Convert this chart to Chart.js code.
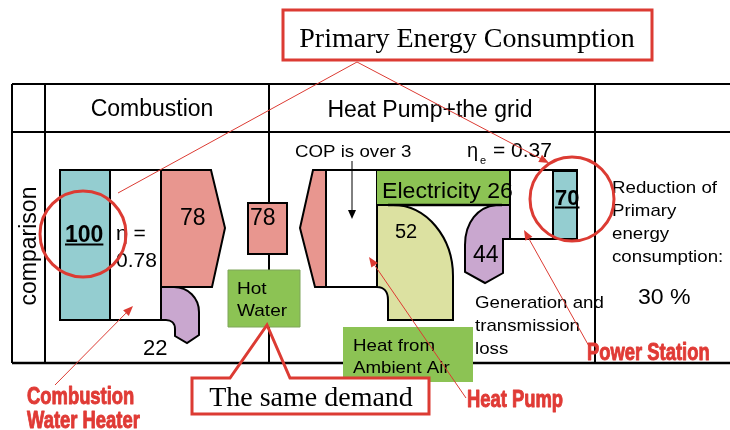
<!DOCTYPE html>
<html><head><meta charset="utf-8">
<script src="https://cdn.jsdelivr.net/npm/chart.js@4.4.1/dist/chart.umd.min.js"></script>
<style>html,body{margin:0;padding:0;background:#fff;}canvas{display:block;}</style>
</head><body>
<canvas id="c" width="730" height="430"></canvas>
<script>
// ---------- data ----------
const categories = ['Combustion', 'Heat Pump+the grid'];
const rowLabel = 'comparison';
const combustionFlows = [100, 78, 22];      // primary energy, heat to hot water, loss
const heatPumpFlows = [78, 52, 26];         // heat delivered, heat from ambient air, electricity
const powerStationFlows = [70, 44];         // primary energy, generation & transmission loss
const demandValue = 78;
const efficiencyLabels = ['0.78', '0.37'];
const copLabel = 'COP is over 3';
const reductionPercent = 30;
const calloutLabels = ['Primary Energy Consumption', 'The same demand'];
const redLabels = ['Combustion', 'Water Heater', 'Heat Pump', 'Power Station'];

// ---------- style ----------
const SANS = '"Liberation Sans", Arial, sans-serif';
const SERIF = '"Liberation Serif", "Times New Roman", serif';
const COL = { teal:'#94CDD0', salmon:'#E8968F', purple:'#C9A7CF', green:'#8CC354',
              olive:'#DCE1A1', red:'#DC3B33', redText:'#E03A35', ink:'#000' };
const U = 1.5;      // px per energy unit for the combustion blocks
const TOP = 170;

const diagram = {
  id: 'diagram',
  afterDraw(chart) {
    const ctx = chart.ctx, sx = chart.scales.x, sy = chart.scales.y;
    const X = v => sx.getPixelForValue(v), Y = v => sy.getPixelForValue(v);

    const path = (cmds) => {
      ctx.beginPath();
      cmds.forEach(c => {
        if (c[0] === 'M') ctx.moveTo(X(c[1]), Y(c[2]));
        else if (c[0] === 'L') ctx.lineTo(X(c[1]), Y(c[2]));
        else if (c[0] === 'C') ctx.bezierCurveTo(X(c[1]), Y(c[2]), X(c[3]), Y(c[4]), X(c[5]), Y(c[6]));
      });
      ctx.closePath();
    };
    const shape = (cmds, fill, stroke, lw) => {
      path(cmds);
      if (fill) { ctx.fillStyle = fill; ctx.fill(); }
      if (stroke) { ctx.strokeStyle = stroke; ctx.lineWidth = lw || 2; ctx.lineJoin = 'miter'; ctx.stroke(); }
    };
    const rect = (x0, y0, x1, y1, fill, stroke, lw) =>
      shape([['M',x0,y0],['L',x1,y0],['L',x1,y1],['L',x0,y1]], fill, stroke, lw);
    const line = (x0, y0, x1, y1, color, lw) => {
      ctx.beginPath(); ctx.moveTo(X(x0), Y(y0)); ctx.lineTo(X(x1), Y(y1));
      ctx.strokeStyle = color; ctx.lineWidth = lw; ctx.lineCap = 'butt'; ctx.stroke();
    };
    const arrow = (x0, y0, x1, y1, color, lw, hl, hw) => {
      const a = Math.atan2(Y(y1) - Y(y0), X(x1) - X(x0));
      const bx = X(x1) - hl * Math.cos(a), by = Y(y1) - hl * Math.sin(a);
      ctx.beginPath(); ctx.moveTo(X(x0), Y(y0)); ctx.lineTo(bx, by);
      ctx.strokeStyle = color; ctx.lineWidth = lw; ctx.stroke();
      ctx.beginPath();
      ctx.moveTo(X(x1), Y(y1));
      ctx.lineTo(bx + hw * Math.sin(a), by - hw * Math.cos(a));
      ctx.lineTo(bx - hw * Math.sin(a), by + hw * Math.cos(a));
      ctx.closePath(); ctx.fillStyle = color; ctx.fill();
    };
    const txt = (s, x, y, o) => {
      ctx.save();
      ctx.font = `${o.weight || 'normal'} ${o.size}px ${o.family || SANS}`;
      ctx.fillStyle = o.color || COL.ink;
      ctx.textAlign = o.align || 'left';
      ctx.textBaseline = 'alphabetic';
      ctx.translate(X(x), Y(y));
      if (o.rot) ctx.rotate(o.rot);
      ctx.scale(o.sx || 1, o.sy || 1);
      if (o.stroke) { ctx.lineWidth = o.stroke; ctx.strokeStyle = o.color; ctx.lineJoin = 'round'; ctx.strokeText(s, 0, 0); }
      ctx.fillText(s, 0, 0);
      const w = ctx.measureText(s).width * (o.sx || 1);
      ctx.restore();
      return w;
    };

    ctx.save();
    // ---------- table ----------
    [[84,2],[132,2],[363,2.5]].forEach(([y,w]) => line(12, y, 730, y, COL.ink, w));
    [12, 45, 269, 595].forEach(x => line(x, 84, x, 363, COL.ink, 2));
    txt(categories[0], 152, 116, { size: 23, align: 'center' });
    txt(categories[1], 430, 117, { size: 23, align: 'center' });
    txt(rowLabel, 36, 246, { size: 23, align: 'center', rot: -Math.PI / 2 });

    // ---------- combustion water heater ----------
    const cBot = TOP + combustionFlows[0] * U;
    const cHeat = TOP + combustionFlows[1] * U;
    rect(60, TOP, 110, cBot, COL.teal, COL.ink, 2);
    rect(110, TOP, 161, cBot, '#fff', COL.ink, 2);
    shape([['M',161,TOP],['L',211,TOP],['L',225,228],['L',212,cHeat],['L',161,cHeat]], COL.salmon, COL.ink, 2);
    shape([['M',161,cHeat],['L',174,cHeat],['C',188,cHeat,199,298,199,312],['L',199,335],['L',187,343],
           ['L',175,336],['L',175,329],['C',175,323,171,cBot,166,cBot],['L',161,cBot]], COL.purple, COL.ink, 2);
    let w = txt(String(combustionFlows[0]), 65, 242, { size: 23, weight: 'bold' });
    line(65, 244.5, 65 + w, 244.5, COL.ink, 2);
    txt('\u03B7 =', 116, 240, { size: 21 });
    txt(efficiencyLabels[0], 116, 267, { size: 21 });
    txt(String(combustionFlows[1]), 180, 225, { size: 23 });
    txt(String(combustionFlows[2]), 143, 355, { size: 22 });

    // ---------- same demand ----------
    rect(248, 203, 287, 254, COL.salmon, COL.ink, 2);
    txt(String(demandValue), 250, 225, { size: 23 });
    rect(228, 270, 300, 327, COL.green, '#7FA55A', 1);
    txt('Hot', 237, 294, { size: 17, sx: 1.12 });
    txt('Water', 237, 316, { size: 17, sx: 1.12 });

    // ---------- heat pump + grid ----------
    const hBot = TOP + heatPumpFlows[0] * U;
    shape([['M',313,TOP],['L',326,TOP],['L',326,hBot],['L',315,hBot],['L',300,228]], COL.salmon, COL.ink, 2);
    rect(326, TOP, 377, hBot, '#fff', COL.ink, 2);
    rect(377, TOP, 511, 205, COL.green, null);
    shape([['M',377,205],['L',393,205],['C',427,205,453,238,453,276],['L',453,320],['L',388,320],
           ['L',388,300],['C',388,292,384,hBot,377,hBot]], COL.olive, COL.ink, 2);
    shape([['M',496,205],['L',510,205],['L',510,239],['L',503,239],['L',503,273],['L',485,283],
           ['L',465,272],['L',465,245],['C',465,222,478,207,496,205]], COL.purple, COL.ink, 2);
    line(388, 205, 502, 205, COL.ink, 2.5);
    rect(510, TOP, 553, 239, '#fff', COL.ink, 2);
    rect(553, 171, 577, 239, COL.teal, COL.ink, 2);
    line(313, TOP, 578, TOP, COL.ink, 2);

    txt(copLabel, 295, 157, { size: 17, sx: 1.1 });
    arrow(352, 161, 352, 219, COL.ink, 1, 9, 4);
    txt('\u03B7', 467, 157, { size: 20 });
    txt('e', 480, 164, { size: 11 });
    txt('= ' + efficiencyLabels[1], 493, 157, { size: 20, sx: 1.05 });
    txt('Electricity ' + heatPumpFlows[2], 382, 198, { size: 22, sx: 1.05 });
    txt(String(heatPumpFlows[1]), 395, 238, { size: 20 });
    txt(String(powerStationFlows[1]), 473, 262, { size: 23 });
    w = txt(String(powerStationFlows[0]), 555, 205, { size: 22, weight: 'bold' });
    line(555, 207.5, 555 + w, 207.5, COL.ink, 2);
    ['Generation and', 'transmission', 'loss'].forEach((s, i) => txt(s, 475, 308 + i * 23, { size: 17, sx: 1.1 }));

    // ---------- reduction ----------
    ['Reduction of', 'Primary', 'energy', 'consumption:'].forEach((s, i) => txt(s, 612, 193 + i * 23, { size: 17, sx: 1.1 }));
    txt(reductionPercent + ' %', 638, 304, { size: 22, sx: 1.05 });

    // ---------- ambient air box ----------
    rect(343, 327, 473, 382, COL.green, null);
    txt('Heat from', 353, 351, { size: 17, sx: 1.1 });
    txt('Ambient Air', 353, 373, { size: 17, sx: 1.1 });

    // ---------- callouts ----------
    rect(283, 10, 652, 60, '#fff', COL.red, 3);
    txt(calloutLabels[0], 467, 47, { size: 28, family: SERIF, align: 'center' });
    rect(192, 378, 429, 414, '#fff', null);
    ctx.beginPath();
    [[192,378],[230,378],[267,325],[290,378],[429,378],[429,414],[192,414]].forEach((p, i) =>
      i ? ctx.lineTo(X(p[0]), Y(p[1])) : ctx.moveTo(X(p[0]), Y(p[1])));
    ctx.closePath(); ctx.strokeStyle = COL.red; ctx.lineWidth = 3; ctx.lineJoin = 'miter'; ctx.stroke();
    txt(calloutLabels[1], 311, 406, { size: 28, family: SERIF, align: 'center' });

    // ---------- red pointers ----------
    line(357, 62, 118, 193, COL.red, 1);
    arrow(357, 62, 549, 163, COL.red, 1, 10, 4);
    arrow(55, 385, 133, 306, COL.red, 1, 10, 4);
    arrow(466, 398, 369, 257, COL.red, 1, 10, 4);
    arrow(590, 348, 524, 230, COL.red, 1, 10, 4);
    [[83, 234, 43], [572, 199, 42]].forEach(([cx, cy, r]) => {
      ctx.beginPath(); ctx.arc(X(cx), Y(cy), r, 0, Math.PI * 2);
      ctx.strokeStyle = COL.red; ctx.lineWidth = 3; ctx.stroke();
    });
    const red = { size: 20, weight: 'bold', color: COL.redText, sx: 0.92, sy: 1.2, stroke: 0.8 };
    txt(redLabels[0], 27, 404, red);
    txt(redLabels[1], 27, 428, red);
    txt(redLabels[2], 467, 407, red);
    txt(redLabels[3], 587, 360, red);
    ctx.restore();
  }
};

new Chart(document.getElementById('c'), {
  type: 'scatter',
  data: { datasets: [{ data: [], showLine: false }] },
  options: {
    responsive: false, animation: false, devicePixelRatio: 1,
    layout: { padding: 0 },
    plugins: { legend: { display: false }, tooltip: { enabled: false } },
    scales: {
      x: { type: 'linear', min: 0, max: 730, display: false },
      y: { type: 'linear', min: 0, max: 430, reverse: true, display: false }
    }
  },
  plugins: [diagram]
});
</script>
</body></html>
